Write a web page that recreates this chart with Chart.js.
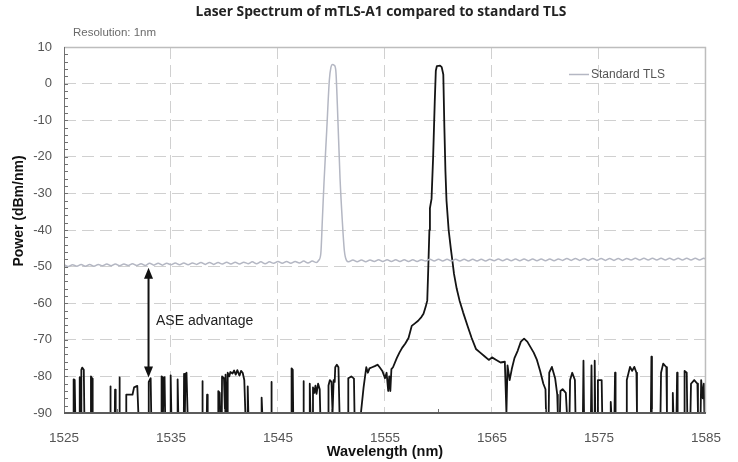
<!DOCTYPE html>
<html><head><meta charset="utf-8">
<script src="https://cdn.jsdelivr.net/npm/chart.js@4.4.1/dist/chart.umd.min.js"></script>
<style>html,body{margin:0;padding:0;background:#fff;}#wrap{width:738px;height:462px;}</style>
</head><body><div id="wrap"><canvas id="c" width="738" height="462"></canvas></div>
<script>
const titleText = "Laser Spectrum of mTLS-A1 compared to standard TLS";
const noteText = "Resolution: 1nm";
const xTitle = "Wavelength (nm)";
const yTitle = "Power (dBm/nm)";
const legendLabel = "Standard TLS";
const arrowLabel = "ASE advantage";

const xTicks = [1525, 1535, 1545, 1555, 1565, 1575, 1585];
const yTicks = [-90, -80, -70, -60, -50, -40, -30, -20, -10, 0, 10];

// Standard TLS (grey)
const tlsWl = [1525.0,1525.4,1525.8,1526.2,1526.6,1527.0,1527.4,1527.8,1528.2,1528.6,1529.0,1529.4,1529.8,1530.2,1530.6,1531.0,1531.4,1531.8,1532.2,1532.6,1533.0,1533.4,1533.8,1534.2,1534.6,1535.0,1535.4,1535.8,1536.2,1536.6,1537.0,1537.4,1537.8,1538.2,1538.6,1539.0,1539.4,1539.8,1540.2,1540.6,1541.0,1541.4,1541.8,1542.2,1542.6,1543.0,1543.4,1543.8,1544.2,1544.6,1545.0,1545.4,1545.8,1546.2,1546.6,1547.0,1547.4,1547.8,1548.2,1548.6,
1548.8,1549.0,1549.15,1549.3,1549.55,1549.8,1549.95,1550.1,1550.25,1550.4,1550.55,1550.8,1551.0,1551.2,1551.4,
1551.6,1552.0,1552.4,1552.8,1553.2,1553.6,1554.0,1554.4,1554.8,1555.2,1555.6,1556.0,1556.4,1556.8,1557.2,1557.6,1558.0,1558.4,1558.8,1559.2,1559.6,1560.0,1560.4,1560.8,1561.2,1561.6,1562.0,1562.4,1562.8,1563.2,1563.6,1564.0,1564.4,1564.8,1565.2,1565.6,1566.0,1566.4,1566.8,1567.2,1567.6,1568.0,1568.4,1568.8,1569.2,1569.6,1570.0,1570.4,1570.8,1571.2,1571.6,1572.0,1572.4,1572.8,1573.2,1573.6,1574.0,1574.4,1574.8,1575.2,1575.6,1576.0,1576.4,1576.8,1577.2,1577.6,1578.0,1578.4,1578.8,1579.2,1579.6,1580.0,1580.4,1580.8,1581.2,1581.6,1582.0,1582.4,1582.8,1583.2,1583.6,1584.0,1584.4,1584.8,1585.0];
const tlsPw = [-49.5,-50.0,-49.5,-49.9,-49.4,-49.9,-49.4,-49.9,-49.4,-49.8,-49.3,-49.8,-49.3,-49.8,-49.3,-49.7,-49.2,-49.7,-49.2,-49.7,-49.1,-49.6,-49.1,-49.6,-49.1,-49.5,-49.0,-49.5,-49.0,-49.5,-49.0,-49.4,-48.9,-49.4,-48.9,-49.4,-48.9,-49.3,-48.8,-49.3,-48.8,-49.3,-48.8,-49.2,-48.7,-49.2,-48.7,-49.2,-48.7,-49.1,-48.6,-49.1,-48.6,-49.1,-48.6,-49.0,-48.5,-49.0,-48.5,-48.9,
-48.3,-46.5,-37,-27,-13,1,4.5,5.2,5.0,3.7,-6,-26,-37,-45.6,-48.3,
-48.7,-48.2,-48.7,-48.2,-48.7,-48.2,-48.6,-48.1,-48.6,-48.1,-48.6,-48.1,-48.6,-48.1,-48.6,-48.1,-48.6,-48.1,-48.5,-48.0,-48.5,-48.0,-48.5,-48.0,-48.5,-48.0,-48.5,-48.0,-48.5,-48.0,-48.5,-48.0,-48.5,-48.0,-48.4,-47.9,-48.4,-47.9,-48.4,-47.9,-48.4,-47.9,-48.4,-47.9,-48.4,-47.9,-48.4,-47.9,-48.4,-47.9,-48.3,-47.8,-48.3,-47.8,-48.3,-47.8,-48.3,-47.8,-48.3,-47.8,-48.3,-47.8,-48.3,-47.8,-48.3,-47.8,-48.2,-47.7,-48.2,-47.7,-48.2,-47.7,-48.2,-47.7,-48.2,-47.7,-48.2,-47.7,-48.2,-47.7,-48.2,-47.7,-48.2,-47.7,-48.0];

// mTLS-A1 (black)
const mtlsWl = [1525.0,1525.9,1525.9,1526.0,1526.05,1526.45,1526.47,1526.53,1526.6,1526.62,1526.7,1526.85,1526.9,1527.5,1527.52,1527.62,1527.68,
1529.3,1529.32,1529.38,1529.75,1529.77,1529.83,1530.15,1530.17,1530.23,1530.8,1530.82,1531.4,1531.55,1531.85,1531.95,
1532.9,1532.92,1533.1,1533.15,1534.1,1534.12,1534.2,1534.25,1534.35,1534.4,1534.45,1534.95,1534.97,1535.03,1535.6,1535.62,1535.68,
1536.2,1536.22,1536.3,1536.35,1536.45,1536.55,1537.9,1537.92,1537.98,1538.35,1538.37,1538.43,
1539.4,1539.42,1539.55,1539.6,1539.75,1539.77,1539.95,1540.05,1540.1,1540.25,1540.3,1540.45,1540.55,1540.75,1540.9,1541.05,1541.2,1541.4,1541.55,1541.7,1541.85,1541.95,
1542.15,1542.17,1542.23,1543.45,1543.47,1543.53,1544.35,1544.37,1544.43,1546.25,1546.27,1546.38,1546.42,1547.35,1547.37,1547.43,
1547.95,1547.97,1548.03,1548.25,1548.27,1548.4,1548.5,1548.6,1548.75,1548.9,1548.95,
1549.7,1549.72,1549.85,1550.0,1550.1,1550.2,1550.3,1550.35,1550.5,1550.65,1550.75,
1551.55,1551.57,1551.85,1552.1,1552.15,1552.75,
1553.0,1553.25,1553.4,1553.55,1553.8,1554.05,1554.3,1554.5,1554.75,1555.0,1555.15,1555.3,1555.4,1555.5,1555.6,1555.75,1556.1,1556.35,1556.6,1556.9,1557.2,1557.5,1557.8,1558.1,1558.4,1558.6,1558.8,1558.95,1559.05,1559.15,1559.2,1559.35,1559.5,1559.65,1559.75,1559.85,1560.15,
1560.3,1560.45,1560.55,1560.65,1560.75,1560.95,1561.15,1561.3,1561.45,1561.7,1561.97,1562.3,1562.75,1563.1,1563.5,1563.9,1564.3,1564.7,1565.0,1565.4,1565.8,1566.2,1566.35,1566.45,1566.65,1566.85,
1567.1,1567.4,1567.7,1568.0,1568.3,1568.6,1568.9,1569.2,1569.5,1569.8,1570.0,1570.05,
1570.3,1570.35,1570.6,1570.9,1571.1,1571.15,1571.35,1571.4,1571.6,1571.9,1572.0,
1572.25,1572.3,1572.5,1572.75,1572.8,1573.5,1573.55,1573.6,1574.25,1574.3,1574.35,1574.55,1574.6,1574.65,
1574.85,1574.9,1575.25,1575.3,1576.05,1576.1,1576.15,1576.45,1576.5,1576.55,
1577.55,1577.6,1577.9,1578.1,1578.3,1578.5,1578.55,1579.85,1579.9,1579.95,
1580.75,1580.8,1581.0,1581.3,1581.35,1581.85,1581.9,1581.95,1582.25,1582.3,1582.35,
1582.95,1583.0,1583.2,1583.25,1583.55,1583.6,1583.9,1584.2,1584.25,1584.5,1584.55,1584.7,1584.8,1584.85,1585.0];
const mtlsPw = [-90,-90,-80.8,-81.0,-90,-90,-80.2,-90,-90,-78.2,-77.6,-78.2,-90,-90,-80,-80.6,-90,
-90,-82.7,-90,-90,-83.6,-90,-90,-80.3,-90,-90,-85,-85,-83,-82.6,-90,
-90,-81.5,-80.5,-90,-90,-80,-80.3,-90,-80.5,-80.2,-90,-90,-79.7,-90,-90,-80.8,-90,
-90,-79.3,-90,-79.5,-79,-90,-90,-81.3,-90,-90,-85,-90,
-90,-84,-84.5,-90,-90,-80,-80.5,-90,-79.5,-90,-79,-80,-78.8,-79.2,-78.4,-79.5,-78.3,-79.8,-78.5,-79,-81,-90,
-90,-82.7,-90,-90,-85.8,-90,-90,-81.5,-90,-90,-77.8,-78.2,-90,-90,-81.3,-90,
-90,-82,-90,-90,-83,-84.5,-82.5,-84.8,-82,-83.5,-90,
-90,-82.5,-81,-81.5,-90,-81,-81.5,-77.5,-76.8,-77.5,-90,
-90,-80.5,-80,-80.6,-90,-90,
-83,-77.5,-79,-77.8,-77.5,-77.2,-76.8,-77.5,-78.5,-80.5,-79,-84,-80,-84,-78,-77.5,-75,-73.5,-72.2,-71,-69.5,-66.2,-65.5,-64.8,-63.8,-62.9,-61,-59.3,-50,-40,-34,-31.5,-20,-5,3.5,4.8,4.9,
4.5,2.5,-12,-24,-32,-40,-45,-48.4,-52,-56,-59.3,-62.5,-66.5,-69.5,-72.5,-73.5,-74.5,-75.5,-74.8,-75.5,-76.2,-76,-90,-77,-81,-78,
-75,-73,-70.5,-69.7,-70.5,-72,-73.5,-75.5,-78.5,-82,-83.5,-90,
-90,-79,-77.4,-80.5,-85,-90,-90,-84,-83.5,-84.5,-90,
-90,-81,-79,-81,-90,-90,-75.7,-90,-90,-77,-90,-90,-75.7,-90,
-90,-81,-81,-90,-90,-87,-90,-90,-79,-90,
-90,-81,-77.4,-78.5,-77.4,-79,-90,-90,-74.6,-90,
-90,-79,-76.5,-77.5,-90,-90,-84.5,-90,-90,-79,-90,
-90,-78.5,-79,-90,-90,-82,-81,-82,-90,-90,-81,-86,-82,-90,-90];

// annotation arrow (data coordinates)
const arrowWl = 1532.9;
const arrowFrom = -50.3;
const arrowTo = -80.3;
const arrowTextAt = [1533.6, -65];

const pts = (xs, ys) => xs.map((v, i) => ({x: v, y: ys[i]}));

const edgeColor = (min, max, c) => (ctx) => {
  const v = ctx.tick && ctx.tick.value;
  return (v === min || v === max) ? 'rgba(0,0,0,0)' : c;
};

const deco = {
  id: 'deco',
  afterDatasetsDraw(chart) {
    const {ctx, chartArea: a, scales: {x, y}} = chart;
    ctx.save();
    // frame
    ctx.strokeStyle = '#bdbdbd'; ctx.lineWidth = 1.5;
    ctx.beginPath(); ctx.moveTo(a.left, a.top + 0.5); ctx.lineTo(a.right - 0.5, a.top + 0.5); ctx.lineTo(a.right - 0.5, a.bottom); ctx.stroke();
    ctx.strokeStyle = '#707070'; ctx.lineWidth = 1;
    ctx.beginPath(); ctx.moveTo(a.left + 0.5, a.top); ctx.lineTo(a.left + 0.5, a.bottom); ctx.stroke();
    for (let v = yTicks[0] + 2; v < yTicks[yTicks.length - 1]; v += 2) {
      const py = Math.round(y.getPixelForValue(v)) + 0.5;
      ctx.beginPath(); ctx.moveTo(a.left, py); ctx.lineTo(a.left + 4, py); ctx.stroke();
    }
    for (let v = xTicks[0] + 5; v < xTicks[xTicks.length - 1]; v += 10) {
      const px = Math.round(x.getPixelForValue(v)) + 0.5;
      ctx.beginPath(); ctx.moveTo(px, a.bottom); ctx.lineTo(px, a.bottom - 4); ctx.stroke();
    }
    ctx.strokeStyle = '#5c5c5c'; ctx.lineWidth = 2;
    ctx.beginPath(); ctx.moveTo(a.left, a.bottom); ctx.lineTo(a.right, a.bottom); ctx.stroke();

    // arrow
    const ax = x.getPixelForValue(arrowWl);
    const ay1 = y.getPixelForValue(arrowFrom);
    const ay2 = y.getPixelForValue(arrowTo);
    ctx.strokeStyle = '#111'; ctx.fillStyle = '#111'; ctx.lineWidth = 2;
    ctx.beginPath(); ctx.moveTo(ax, ay1 + 8); ctx.lineTo(ax, ay2 - 8); ctx.stroke();
    ctx.beginPath(); ctx.moveTo(ax, ay1); ctx.lineTo(ax - 4.5, ay1 + 11); ctx.lineTo(ax + 4.5, ay1 + 11); ctx.closePath(); ctx.fill();
    ctx.beginPath(); ctx.moveTo(ax, ay2); ctx.lineTo(ax - 4.5, ay2 - 11); ctx.lineTo(ax + 4.5, ay2 - 11); ctx.closePath(); ctx.fill();
    ctx.font = '14px "Liberation Sans", Arial, sans-serif';
    ctx.fillStyle = '#222'; ctx.textBaseline = 'middle'; ctx.textAlign = 'left';
    ctx.fillText(arrowLabel, x.getPixelForValue(arrowTextAt[0]), y.getPixelForValue(arrowTextAt[1]));

    // legend
    ctx.strokeStyle = '#b4b7c3'; ctx.lineWidth = 1.5;
    ctx.beginPath(); ctx.moveTo(569, 74.5); ctx.lineTo(589, 74.5); ctx.stroke();
    ctx.font = '12px "Liberation Sans", Arial, sans-serif';
    ctx.fillStyle = '#555';
    ctx.fillText(legendLabel, 591, 74.5);

    // note
    ctx.font = '11.5px "Liberation Sans", Arial, sans-serif';
    ctx.fillStyle = '#6a6a6a';
    ctx.fillText(noteText, 73, 33);

    // y axis title
    ctx.save();
    ctx.translate(19, 211);
    ctx.rotate(-Math.PI / 2);
    ctx.font = 'bold 14px "Liberation Sans", Arial, sans-serif';
    ctx.fillStyle = '#111'; ctx.textAlign = 'center';
    ctx.fillText(yTitle, 0, 0);
    ctx.restore();

    // title (fit to the reference width)
    ctx.font = 'bold 13px "Open Sans", sans-serif';
    const w = ctx.measureText(titleText).width;
    const fs = Math.min(15, 13 * 371 / w);
    ctx.font = 'bold ' + fs.toFixed(2) + 'px "Open Sans", sans-serif';
    ctx.fillStyle = '#222'; ctx.textAlign = 'center'; ctx.textBaseline = 'middle';
    ctx.fillText(titleText, 381, 12);
    ctx.restore();
  }
};

new Chart(document.getElementById('c'), {
  type: 'line',
  data: {
    datasets: [
      { label: legendLabel, data: pts(tlsWl, tlsPw), borderColor: '#b4b7c3', borderWidth: 1.5, pointRadius: 0, cubicInterpolationMode: 'monotone', tension: 0.4 },
      { label: 'mTLS-A1', data: pts(mtlsWl, mtlsPw), borderColor: '#141414', borderWidth: 1.8, borderJoinStyle: 'round', pointRadius: 0, tension: 0 }
    ]
  },
  options: {
    responsive: false,
    animation: false,
    layout: { padding: { top: 47, right: 25, left: 0, bottom: 0 } },
    plugins: { legend: { display: false }, title: { display: false }, tooltip: { enabled: false } },
    scales: {
      x: {
        type: 'linear', min: 1525, max: 1585,
        afterBuildTicks: s => { s.ticks = xTicks.map(v => ({value: v})); },
        afterFit: s => { s.height = 49; },
        border: { display: false, dash: [12, 6] },
        grid: { color: edgeColor(1525, 1585, '#d0d0d0'), lineWidth: 1, drawTicks: false },
        ticks: { color: '#555', font: { family: '"Liberation Sans", Arial, sans-serif', size: 13.5 }, padding: 17, maxRotation: 0, autoSkip: false, callback: v => String(v) },
        title: { display: true, text: xTitle, color: '#111', font: { family: '"Liberation Sans", Arial, sans-serif', size: 14.5, weight: 'bold' }, padding: { top: 0, bottom: 1 } }
      },
      y: {
        min: -90, max: 10,
        afterBuildTicks: s => { s.ticks = yTicks.map(v => ({value: v})); },
        afterFit: s => { s.width = 64; },
        border: { display: false, dash: [12, 6] },
        grid: { color: edgeColor(-90, 10, '#d0d0d0'), lineWidth: 1, drawTicks: false },
        ticks: { color: '#555', font: { family: '"Liberation Sans", Arial, sans-serif', size: 13 }, padding: 12, callback: v => String(v) },
        title: { display: false, text: yTitle }
      }
    }
  },
  plugins: [deco]
});
</script>
</body></html>
